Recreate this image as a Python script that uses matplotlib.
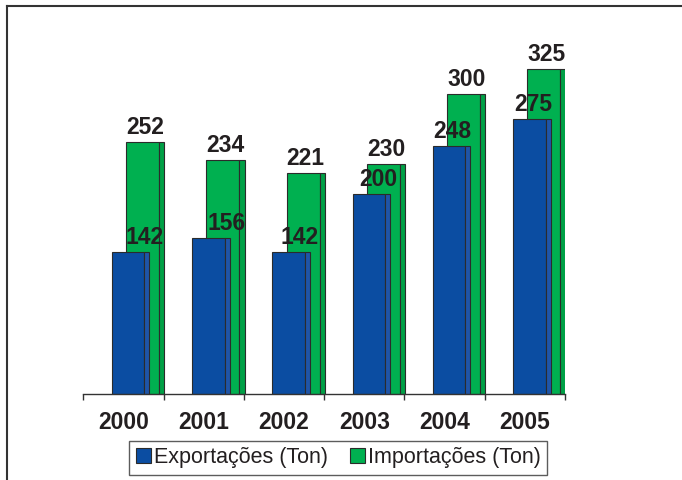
import numpy as np
import matplotlib
matplotlib.use("Agg")
import matplotlib.pyplot as plt
from matplotlib.lines import Line2D
from matplotlib.patches import Patch

plt.rcParams['font.family'] = ['Liberation Sans', 'DejaVu Sans']

# data
years = ['2000', '2001', '2002', '2003', '2004', '2005']
exports = [142, 156, 142, 200, 248, 275]
imports = [252, 234, 221, 230, 300, 325]
# horizontal nudge of the export labels (Excel shifted them off the bar)
exp_label_dx = [0.26, 0.28, 0.19, 0.18, 0.10, 0.10]

blue, blue_side = '#0B4DA2', '#1F55A8'
green, green_side = '#00B050', '#00A046'
edge = '#2b2b2b'
txt = '#231F20'

fig = plt.figure(figsize=(6.82, 4.8), dpi=100)
ax = fig.add_axes([83.3/682, 86/480, 481.7/682, 360/480])

x = np.arange(len(years))

# green (imports) sits behind, shifted right
ax.bar(x + 0.032, imports, width=0.411, align='edge', color=green,
       edgecolor=edge, linewidth=0.8, zorder=1)
ax.bar(x + 0.443, imports, width=0.066, align='edge', color=green_side,
       edgecolor=edge, linewidth=0.8, zorder=1)
# blue (exports) in front
ax.bar(x - 0.146, exports, width=0.406, align='edge', color=blue,
       edgecolor=edge, linewidth=0.8, zorder=2)
ax.bar(x + 0.26, exports, width=0.062, align='edge', color=blue_side,
       edgecolor=edge, linewidth=0.8, zorder=2)

for i in range(len(years)):
    ax.text(x[i] + 0.27, imports[i] + 8, str(imports[i]), ha='center',
            va='baseline', fontsize=16.5, fontweight='bold', color=txt, zorder=3)
    ax.text(x[i] + exp_label_dx[i], exports[i] + 8, str(exports[i]), ha='center',
            va='baseline', fontsize=16.5, fontweight='bold', color=txt, zorder=3)

ax.set_xlim(-0.5, len(years) - 0.5)
ax.set_ylim(0, 360)
for s in ['top', 'right', 'left']:
    ax.spines[s].set_visible(False)
ax.spines['bottom'].set_color('#333333')
ax.spines['bottom'].set_linewidth(1.0)
ax.set_yticks([])

ax.set_xticks(np.arange(len(years) + 1) - 0.5)
ax.set_xticklabels([])
ax.tick_params(axis='x', which='major', length=4, width=1.0, color='#333333', direction='out')
ax.set_xticks(x, minor=True)
ax.set_xticklabels(years, minor=True, fontsize=16.5, fontweight='bold', color=txt)
ax.tick_params(axis='x', which='minor', length=0, pad=12.5)

# border of the chart area (top and left only visible)
fig.add_artist(Line2D([6.5/682, 1.0], [1 - 5.5/480, 1 - 5.5/480], color='#333333', linewidth=1.5))
fig.add_artist(Line2D([6.5/682, 6.5/682], [0.0, 1 - 5.5/480], color='#333333', linewidth=1.5))

handles = [Patch(facecolor=blue, edgecolor=edge, linewidth=0.8),
           Patch(facecolor=green, edgecolor=edge, linewidth=0.8)]
leg = fig.legend(handles, ['Exportações (Ton)', 'Importações (Ton)'], ncol=2,
                 loc='center', bbox_to_anchor=(0.496, 0.046), fontsize=15.5,
                 handlelength=0.7, handleheight=0.7, handletextpad=0.15,
                 columnspacing=1.0, borderpad=0.3, borderaxespad=0,
                 fancybox=False, frameon=True)
leg.get_frame().set_edgecolor('#333333')
leg.get_frame().set_linewidth(1.0)
for t in leg.get_texts():
    t.set_color(txt)

fig.savefig('out.png', dpi=100)
